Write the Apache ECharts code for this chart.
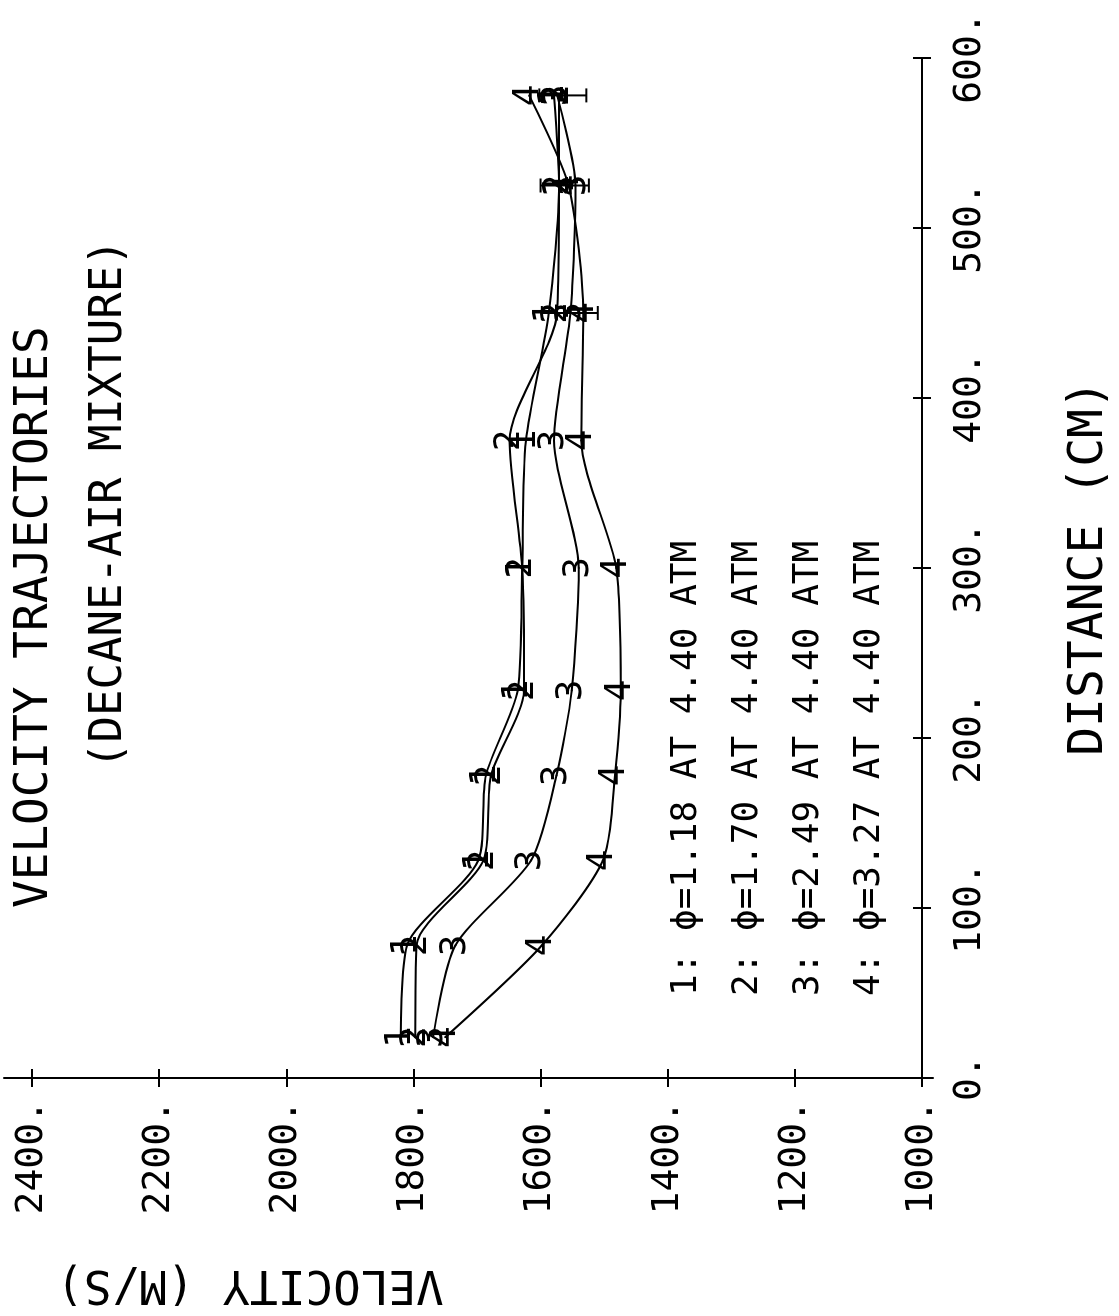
<!DOCTYPE html>
<html>
<head>
<meta charset="utf-8">
<script src="https://cdn.jsdelivr.net/npm/echarts@6/dist/echarts.min.js"></script>
<style>
html,body{margin:0;padding:0;background:#fff;overflow:hidden;}
#wrap{position:absolute;left:0;top:0;width:1316px;height:1119px;transform-origin:0 0;transform:translateY(1316px) rotate(-90deg);}
#chart{width:1316px;height:1119px;}
</style>
</head>
<body>
<div id="wrap"><div id="chart"></div></div>
<script>
// Distance (cm) of each measuring station
const distances = [24, 78, 128, 178, 228, 300, 375, 450, 525, 578];
// Velocity (m/s) for each mixture
const vel1 = [1820, 1810, 1698, 1686, 1636, 1629, 1623, 1587, 1571, 1579];
const vel2 = [1797, 1795, 1690, 1678, 1626, 1629, 1649, 1574, 1571, 1571];
const vel3 = [1769, 1734, 1615, 1575, 1551, 1540, 1579, 1553, 1545, 1574];
const vel4 = [1750, 1598, 1502, 1483, 1474, 1481, 1536, 1533, 1556, 1618];
// Error bars (distance, low, high velocity)
const errDist = [450, 525, 578];
const errLow = [1510, 1524, 1528];
const errHigh = [1598, 1600, 1602];
const seriesNames = ['1', '2', '3', '4'];
const legendLines = [
  '1: \u03D5=1.18 AT 4.40 ATM',
  '2: \u03D5=1.70 AT 4.40 ATM',
  '3: \u03D5=2.49 AT 4.40 ATM',
  '4: \u03D5=3.27 AT 4.40 ATM'
];
const titleText = 'VELOCITY TRAJECTORIES';
const subtitleText = '(DECANE-AIR MIXTURE)';
const xName = 'DISTANCE (CM)';
const yName = 'VELOCITY (M/S)';

const FONT = "'DejaVu Sans Mono', monospace";
const allVel = [vel1, vel2, vel3, vel4];
const chart = echarts.init(document.getElementById('chart'), null, {renderer: 'canvas'});

const series = allVel.map((v, i) => ({
  type: 'line',
  name: seriesNames[i],
  data: distances.map((d, j) => [d, v[j]]),
  smooth: 0.25,
  symbol: 'circle',
  symbolSize: 2,
  itemStyle: {color: '#000'},
  lineStyle: {color: '#000', width: 2},
  label: {
    show: true, position: 'inside', formatter: seriesNames[i],
    fontFamily: FONT, fontSize: 36, color: '#000'
  },
  xAxisIndex: 0, yAxisIndex: 0,
  animation: false,
  z: 3
}));

series.push({
  type: 'custom',
  name: 'error',
  xAxisIndex: 0, yAxisIndex: 0,
  data: errDist.map((d, j) => [d, errLow[j], errHigh[j]]),
  renderItem: function (params, api) {
    const lo = api.coord([api.value(0), api.value(1)]);
    const hi = api.coord([api.value(0), api.value(2)]);
    const c = 7;
    const st = {stroke: '#000', lineWidth: 2};
    return {
      type: 'group',
      children: [
        {type: 'line', shape: {x1: lo[0], y1: lo[1], x2: hi[0], y2: hi[1]}, style: st},
        {type: 'line', shape: {x1: lo[0] - c, y1: lo[1], x2: lo[0] + c, y2: lo[1]}, style: st},
        {type: 'line', shape: {x1: hi[0] - c, y1: hi[1], x2: hi[0] + c, y2: hi[1]}, style: st}
      ]
    };
  },
  z: 2
});

const lineStyle = {color: '#000', width: 2};

chart.setOption({
  animation: false,
  backgroundColor: '#fff',
  grid: [
    {left: 238, right: 58, top: 32, bottom: 186, containLabel: false},
    {left: 238, right: 58, top: 4, bottom: 186, containLabel: false}
  ],
  xAxis: [
    {
      gridIndex: 0, type: 'value', min: 0, max: 600, interval: 100,
      axisLine: {show: true, onZero: false, lineStyle: lineStyle},
      axisTick: {show: true, length: 9, lineStyle: lineStyle},
      splitLine: {show: false},
      name: xName, nameLocation: 'middle', nameGap: 144,
      nameTextStyle: {fontFamily: FONT, fontSize: 48, color: '#000'},
      axisLabel: {formatter: v => v + '.', margin: 29, fontFamily: FONT, fontSize: 38, color: '#000'}
    },
    {
      gridIndex: 0, type: 'value', min: 0, max: 600, interval: 100, position: 'bottom',
      axisLine: {show: false}, splitLine: {show: false},
      axisTick: {show: true, inside: true, length: 9, lineStyle: lineStyle},
      axisLabel: {show: false}
    },
    {
      gridIndex: 1, type: 'value', min: 0, max: 600, show: false
    }
  ],
  yAxis: [
    {
      gridIndex: 0, type: 'value', min: 1000, max: 2400, interval: 200,
      axisLine: {show: true, onZero: false, lineStyle: lineStyle},
      axisTick: {show: true, length: 9, lineStyle: lineStyle},
      splitLine: {show: false},
      name: yName, nameLocation: 'middle', nameGap: 182, nameRotate: 90,
      nameTextStyle: {fontFamily: FONT, fontSize: 46, color: '#000', verticalAlign: 'bottom', padding: [0, 0, 0, 454]},
      axisLabel: {formatter: v => v + '.', margin: 22, fontFamily: FONT, fontSize: 38, color: '#000'}
    },
    {
      gridIndex: 0, type: 'value', min: 1000, max: 2400, interval: 200, position: 'left',
      axisLine: {show: false}, splitLine: {show: false},
      axisTick: {show: true, inside: true, length: 9, lineStyle: lineStyle},
      axisLabel: {show: false}
    },
    {
      // plotter frame line runs a little past the last tick
      gridIndex: 1, type: 'value', min: 1000, max: 2400, position: 'left',
      axisLine: {show: true, onZero: false, lineStyle: lineStyle},
      axisTick: {show: false}, axisLabel: {show: false}, splitLine: {show: false}
    }
  ],
  graphic: [
    {type: 'text', left: 408, top: 12, style: {text: titleText, fontFamily: FONT, fontSize: 46, fill: '#000'}},
    {type: 'text', left: 547, top: 88, style: {text: subtitleText, fontFamily: FONT, fontSize: 44, fill: '#000'}},
    {type: 'text', left: 320, top: 656, style: {text: legendLines.join('\n'), fontFamily: FONT, fontSize: 36, lineHeight: 61, fill: '#000'}}
  ],
  series: series
});
</script>
</body>
</html>
